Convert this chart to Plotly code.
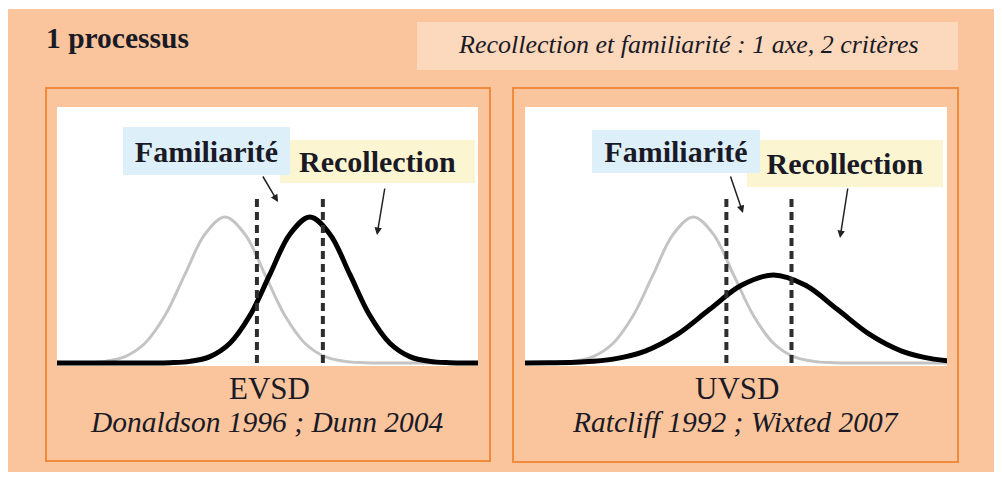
import plotly.graph_objects as go
from plotly.subplots import make_subplots

# the page adds an 8px body margin, so the figure is sized to fit the window
W, H = 994, 469
OFF = 8

# ---------------- data ----------------
# x in "criterion axis" units, y in density units
new_x = [-4.5, -4.0, -3.5, -3.0, -2.5, -2.0, -1.5, -1.0, -0.5, 0.0, 0.5, 1.0,
         1.5, 2.0, 2.5, 3.0, 3.5, 4.0, 4.5, 5.5, 7.0]
new_y = [0.0, 0.0001, 0.0009, 0.0044, 0.0175, 0.054, 0.1296, 0.242, 0.352, 0.399,
         0.352, 0.242, 0.1296, 0.054, 0.0175, 0.0044, 0.0009, 0.0001, 0.0, 0.0, 0.0]

old_evsd_x = [-4.5, -3.5, -2.375, -1.875, -1.375, -0.875, -0.375, 0.125, 0.625,
              1.125, 1.625, 2.125, 2.625, 3.125, 3.625, 4.125, 4.625, 5.125,
              5.625, 6.125, 6.625, 7.0]
old_evsd_y = [0.0, 0.0, 0.0, 0.0001, 0.0009, 0.0044, 0.0175, 0.054, 0.1296,
              0.242, 0.352, 0.399, 0.352, 0.242, 0.1296, 0.054, 0.0175, 0.0044,
              0.0009, 0.0001, 0.0, 0.0]

old_uvsd_x = [-5.2, -4.4, -3.6, -2.8, -2.0, -1.2, -0.4, 0.4, 1.2, 2.0, 2.8, 3.6,
              4.4, 5.2, 6.0, 6.8, 7.6]
old_uvsd_y = [0.0, 0.0001, 0.0005, 0.0027, 0.0106, 0.0325, 0.0781, 0.1459, 0.2122,
              0.2405, 0.2122, 0.1459, 0.0781, 0.0325, 0.0106, 0.0027, 0.0005]

criteria_evsd = [0.8, 2.45]
criteria_uvsd = [0.825, 2.45]
criterion_top = 0.451

x_range = [-4.2, 6.33]
y_range = [-0.0082, 0.6995]

title_text = "1 processus"
subtitle_text = "Recollection et familiarité : 1 axe, 2 critères"
label_fam = "Familiarité"
label_rec = "Recollection"
model_names = ["EVSD", "UVSD"]
model_refs = ["Donaldson 1996 ; Dunn 2004", "Ratcliff 1992 ; Wixted 2007"]

# ---------------- styling ----------------
ORANGE_BG = "#FAC59C"
ORANGE_LINE = "#F08A3C"
SUB_BOX = "#FCD8BD"
BLUE_BOX = "#DDF0FA"
YELLOW_BOX = "#FCF5D2"
TXT = "#1A1A26"
SERIF = "Liberation Serif"


def fx(px):
    return (px - OFF) / W


def fy(py):
    return 1 - (py - OFF) / H


fig = make_subplots(rows=1, cols=2, horizontal_spacing=0.0)

panels = [
    dict(col=1, old_x=old_evsd_x, old_y=old_evsd_y, crit=criteria_evsd, dom=(57, 478)),
    dict(col=2, old_x=old_uvsd_x, old_y=old_uvsd_y, crit=criteria_uvsd, dom=(525, 947)),
]

for p in panels:
    c = p["col"]
    fig.add_trace(go.Scatter(x=new_x, y=new_y, mode="lines",
                             line=dict(color="#C4C4C4", width=3, shape="spline"),
                             hoverinfo="skip", showlegend=False), row=1, col=c)
    fig.add_trace(go.Scatter(x=p["old_x"], y=p["old_y"], mode="lines",
                             line=dict(color="#000000", width=5, shape="spline"),
                             hoverinfo="skip", showlegend=False), row=1, col=c)
    for cx in p["crit"]:
        fig.add_trace(go.Scatter(x=[cx, cx], y=[0, criterion_top], mode="lines",
                                 line=dict(color="#2E2E2E", width=4, dash="8px,5px"),
                                 hoverinfo="skip", showlegend=False), row=1, col=c)

top_px, bot_px = 107, 366
for p in panels:
    c = p["col"]
    xa = "xaxis" if c == 1 else "xaxis2"
    ya = "yaxis" if c == 1 else "yaxis2"
    fig.layout[xa].update(domain=[fx(p["dom"][0]), fx(p["dom"][1])], range=x_range,
                          showgrid=False, zeroline=False, showticklabels=False,
                          ticks="", showline=False, fixedrange=True)
    fig.layout[ya].update(domain=[fy(bot_px), fy(top_px)], range=y_range,
                          showgrid=False, zeroline=False, showticklabels=False,
                          ticks="", showline=False, fixedrange=True)

shapes = [
    dict(type="rect", xref="paper", yref="paper", x0=0, x1=1,
         y0=fy(472), y1=fy(9), fillcolor=ORANGE_BG, line=dict(width=0), layer="below"),
    dict(type="rect", xref="paper", yref="paper", x0=fx(46), x1=fx(490),
         y0=fy(461), y1=fy(88), fillcolor="rgba(0,0,0,0)",
         line=dict(color=ORANGE_LINE, width=2), layer="below"),
    dict(type="rect", xref="paper", yref="paper", x0=fx(513), x1=fx(958),
         y0=fy(462), y1=fy(88), fillcolor="rgba(0,0,0,0)",
         line=dict(color=ORANGE_LINE, width=2), layer="below"),
    dict(type="rect", xref="paper", yref="paper", x0=fx(417), x1=fx(958),
         y0=fy(70), y1=fy(22), fillcolor=SUB_BOX, line=dict(width=0), layer="below"),
]
for p in panels:
    shapes.append(dict(type="rect", xref="paper", yref="paper",
                       x0=fx(p["dom"][0]), x1=fx(p["dom"][1]),
                       y0=fy(bot_px), y1=fy(top_px), fillcolor="white",
                       line=dict(width=0), layer="below"))

ann = []
ann.append(dict(text=f"<b>{title_text}</b>", x=fx(44), y=fy(38), xanchor="left",
                yanchor="middle", font=dict(family=SERIF, size=29.5, color=TXT)))
ann.append(dict(text=f"<i>{subtitle_text}</i>", x=fx(688), y=fy(45), xanchor="center",
                yanchor="middle", font=dict(family=SERIF, size=26, color=TXT)))

# label boxes: (text, colour, center x, center y, w, h)
boxes = [
    (label_rec, YELLOW_BOX, 377.5, 161.5, 195, 43),
    (label_fam, BLUE_BOX, 206.5, 151, 167, 48),
    (label_rec, YELLOW_BOX, 845, 163.5, 196, 47),
    (label_fam, BLUE_BOX, 676, 151.5, 168, 43),
]
for t, col, cx, cy, w, h in boxes:
    ann.append(dict(text=f"<b>{t}</b>", x=fx(cx), y=fy(cy), xanchor="center",
                    yanchor="middle", width=w, height=h, bgcolor=col, borderpad=0,
                    borderwidth=0, align="center", valign="middle",
                    font=dict(family=SERIF, size=30, color=TXT)))

# arrows: head (x, y), tail offset (ax, ay) in pixels
arrows = [(278, 202, -16, -27), (377, 235, 8, -48), (743, 213, -13, -38), (840, 238, 8, -51)]
for hx, hy, ax, ay in arrows:
    ann.append(dict(text="", x=fx(hx), y=fy(hy), ax=ax, ay=ay, showarrow=True,
                    arrowhead=2, arrowsize=1, arrowwidth=1.5, arrowcolor="#222222"))

for i, (cx, ccx) in enumerate([(269, 267), (737, 735)]):
    ann.append(dict(text=model_names[i], x=fx(cx), y=fy(388), xanchor="center",
                    yanchor="middle", font=dict(family=SERIF, size=31, color=TXT)))
    ann.append(dict(text=f"<i>{model_refs[i]}</i>", x=fx(ccx), y=fy(422),
                    xanchor="center", yanchor="middle",
                    font=dict(family=SERIF, size=29.5, color=TXT)))

for a in ann:
    a.setdefault("xref", "paper")
    a.setdefault("yref", "paper")
    a.setdefault("showarrow", False)

fig.update_layout(width=W, height=H, autosize=False,
                  margin=dict(l=0, r=0, t=0, b=0, pad=0),
                  paper_bgcolor="white", plot_bgcolor="white",
                  shapes=shapes, annotations=ann, showlegend=False)

fig.write_html("out.html")
